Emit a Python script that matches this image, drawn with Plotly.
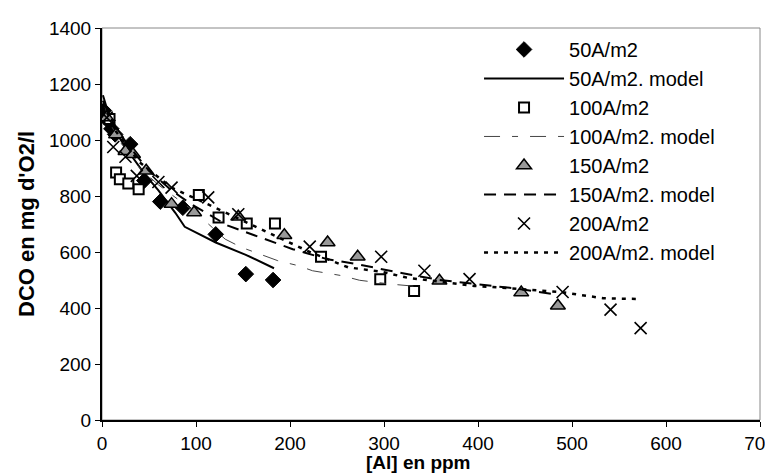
import plotly.graph_objects as go

# ---- data ----
x50 = [2, 3, 6, 10, 14, 30, 45, 62, 86, 121, 153, 182]
y50 = [1105, 1085, 1070, 1040, 1020, 985, 855, 780, 758, 663, 521, 500]
x50m = [1, 10, 20, 30, 45, 60, 78, 88, 121, 153, 183]
y50m = [1160, 1060, 1000, 950, 880, 820, 740, 690, 634, 590, 542]

x100 = [8, 15, 19, 28, 39, 103, 124, 154, 184, 233, 296, 332]
y100 = [1075, 884, 860, 845, 824, 804, 723, 702, 702, 583, 503, 461]
x100m = [1, 10, 20, 40, 60, 100, 131, 148, 187, 209, 224, 256, 274, 308, 332]
y100m = [1140, 1050, 990, 900, 840, 740, 646, 617, 569, 551, 533, 515, 499, 485, 478]

x150 = [5, 15, 25, 33, 47, 74, 98, 145, 194, 240, 272, 359, 446, 485]
y150 = [1080, 1020, 960, 949, 890, 771, 741, 726, 660, 634, 583, 497, 455, 408]
x150m = [1, 15, 33, 50, 74, 95, 134, 168, 203, 240, 272, 320, 359, 437, 485]
y150m = [1140, 1040, 960, 890, 820, 771, 694, 652, 610, 574, 556, 524, 500, 471, 447]

x200 = [5, 12, 25, 37, 60, 74, 113, 145, 221, 297, 343, 391, 490, 541, 573]
y200 = [1080, 975, 940, 872, 850, 830, 795, 735, 619, 583, 533, 503, 457, 394, 328]
x200m = [1, 15, 40, 74, 113, 145, 221, 262, 297, 325, 396, 424, 490, 533, 572]
y200m = [1130, 1030, 920, 830, 770, 720, 600, 545, 530, 508, 479, 473, 456, 435, 432]

xticks = [0, 100, 200, 300, 400, 500, 600, 700]
yticks = [0, 200, 400, 600, 800, 1000, 1200, 1400]

FONT = "Liberation Sans, Arial, sans-serif"

fig = go.Figure()
fig.add_trace(go.Scatter(x=x50, y=y50, mode="markers", name="50A/m2",
                         marker=dict(symbol="diamond", size=12, color="black",
                                     line=dict(color="black", width=1))))
fig.add_trace(go.Scatter(x=x50m, y=y50m, mode="lines", name="50A/m2. model",
                         line=dict(color="black", width=2)))
fig.add_trace(go.Scatter(x=x100, y=y100, mode="markers", name="100A/m2",
                         marker=dict(symbol="square", size=10, color="white",
                                     line=dict(color="black", width=2))))
fig.add_trace(go.Scatter(x=x100m, y=y100m, mode="lines", name="100A/m2. model",
                         line=dict(color="#444444", width=1, dash="16px,12px,6px,12px")))
fig.add_trace(go.Scatter(x=x150, y=y150, mode="markers", name="150A/m2",
                         marker=dict(symbol="triangle-up", size=13, color="#999999",
                                     line=dict(color="black", width=1.5))))
fig.add_trace(go.Scatter(x=x150m, y=y150m, mode="lines", name="150A/m2. model",
                         line=dict(color="black", width=2, dash="12px,8px")))
fig.add_trace(go.Scatter(x=x200, y=y200, mode="markers", name="200A/m2",
                         marker=dict(symbol="x-thin", size=12, color="black",
                                     line=dict(color="black", width=1.6))))
fig.add_trace(go.Scatter(x=x200m, y=y200m, mode="lines", name="200A/m2. model",
                         line=dict(color="black", width=2.5, dash="4px,6px")))

fig.update_layout(
    width=773, height=476,
    margin=dict(l=94, r=21, t=20, b=64),
    paper_bgcolor="white", plot_bgcolor="white",
    font=dict(family=FONT, size=19, color="black"),
    showlegend=True,
    legend=dict(x=0.573, y=0.995, xanchor="left", yanchor="top",
                bgcolor="rgba(0,0,0,0)", font=dict(size=20),
                itemwidth=80, tracegroupgap=0),
    shapes=[dict(type="rect", xref="paper", yref="paper", x0=0, y0=0, x1=1, y1=1,
                 line=dict(color="#888888", width=1), layer="below")],
    annotations=[
        dict(text="<b>[Al] en ppm</b>", xref="paper", yref="paper", x=(410 - 94) / 658, y=0,
             yshift=-42, xanchor="center", yanchor="middle", showarrow=False,
             font=dict(size=19)),
        dict(text="<b>DCO en mg d'O2/l</b>", xref="paper", yref="paper", x=0, y=0.5,
             xshift=-76, xanchor="center", yanchor="middle", showarrow=False,
             textangle=-90, font=dict(size=22)),
    ],
)
fig.update_xaxes(range=[0, 700], tickvals=xticks,
                 showgrid=False, zeroline=False, showline=True, linecolor="black",
                 linewidth=2, ticks="outside", ticklen=5, tickcolor="black",
                 tickfont=dict(size=19), automargin=False)
fig.update_yaxes(range=[0, 1400], tickvals=yticks,
                 showgrid=False, zeroline=False, showline=True, linecolor="black",
                 linewidth=2, ticks="outside", ticklen=5, tickcolor="black",
                 tickfont=dict(size=19), automargin=False)

fig.write_html("out.html")
